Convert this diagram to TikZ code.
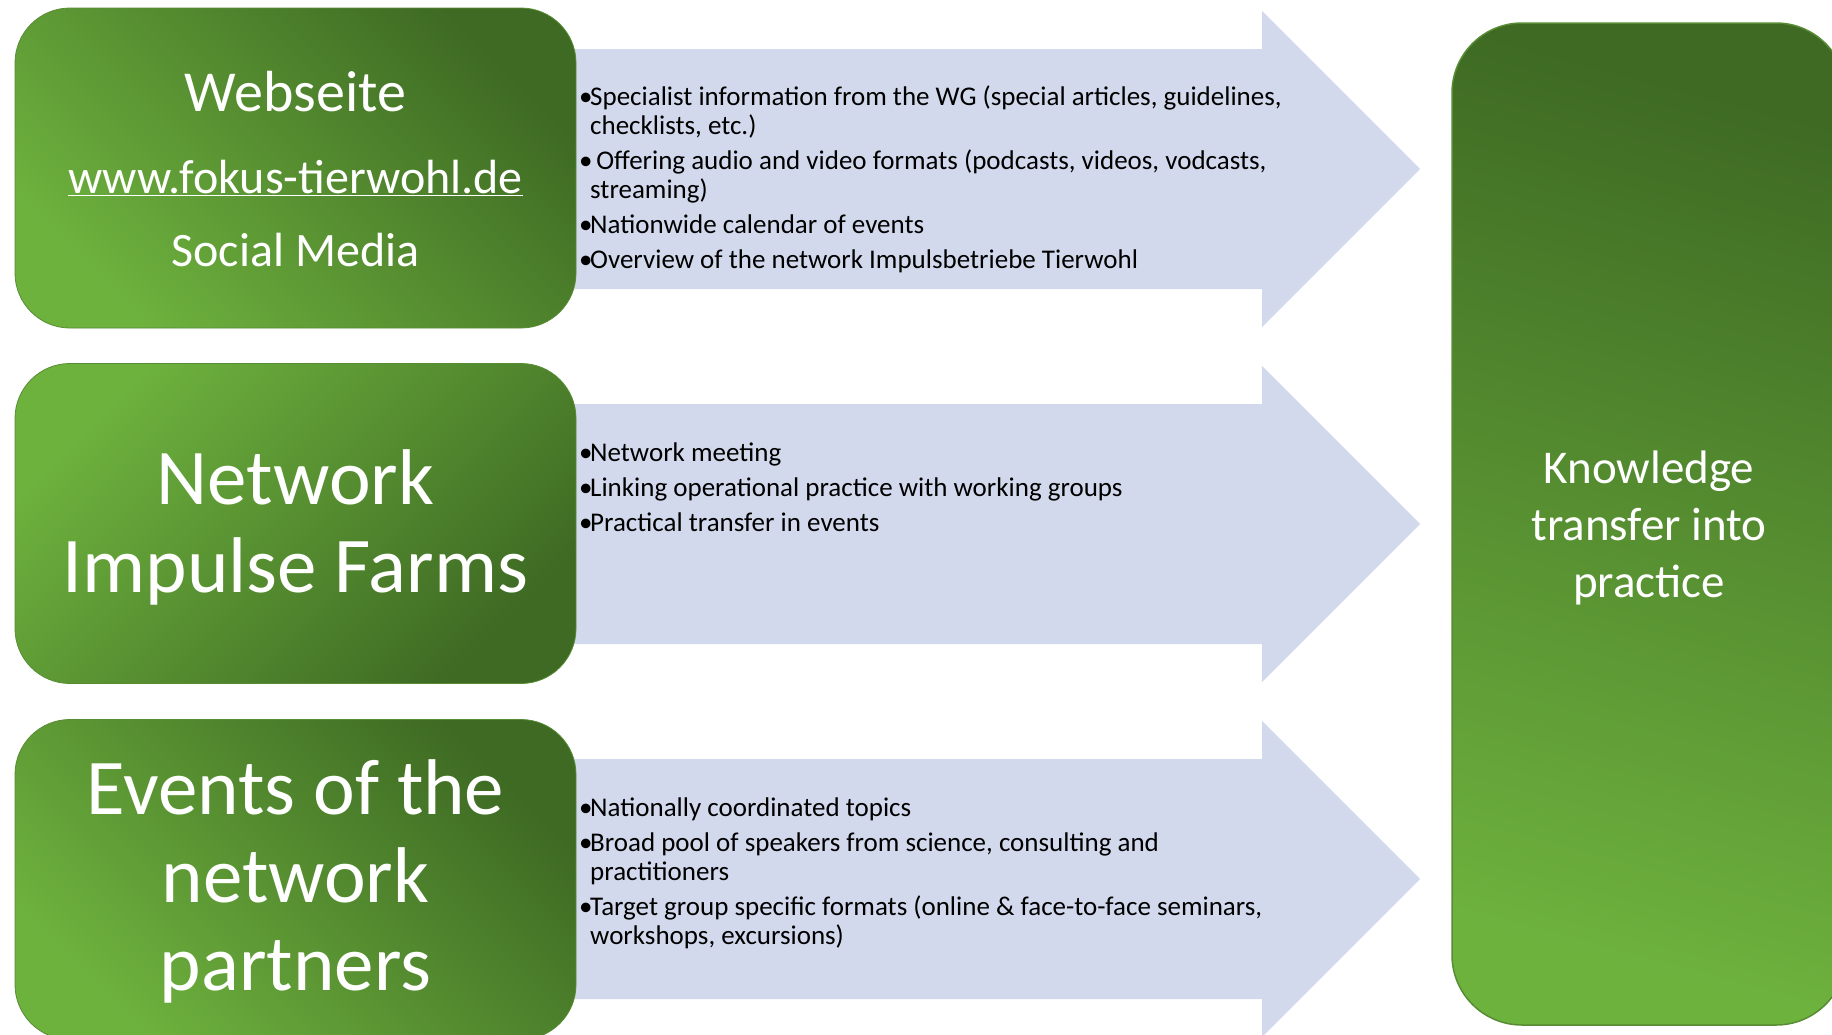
\documentclass[tikz,border=0pt]{standalone}
\usepackage{fontspec}
\setmainfont{Carlito}
\definecolor{gdark}{RGB}{62,106,35}
\definecolor{glight}{RGB}{110,178,62}
\definecolor{gedge}{RGB}{88,140,52}
\definecolor{arrowfill}{RGB}{211,217,236}
\newlength\bulw
\setlength\bulw{11pt}
\newcommand\bitem[1]{\spaceskip=0pt\xspaceskip=0pt\hangindent=\bulw\hangafter=1\noindent\makebox[\bulw][l]{•}#1\par}
\newcommand\flowarrow[1]{%
  \fill[arrowfill] (572,#1-120) -- (1262,#1-120) -- (1262,#1-158) -- (1420,#1)
    -- (1262,#1+158) -- (1262,#1+120) -- (572,#1+120) -- cycle;}
\begin{document}
\begin{tikzpicture}[x=1pt,y=-1pt,
  gbox/.style={rounded corners=55pt, draw=gedge, line width=0.8pt,
    minimum width=561pt, minimum height=320pt, inner sep=0pt},
  shadeA/.style={top color=gdark, bottom color=glight, shading angle=-45},
  shadeB/.style={top color=glight, bottom color=gdark, shading angle=45},
  title/.style={text=white, align=center, inner sep=0pt},
  blist/.style={anchor=base west, inner sep=0pt, text width=820pt, align=left,
    font=\fontsize{27}{29}\selectfont\setlength\parskip{6pt}}]
\useasboundingbox (0,0) rectangle (1832,1034);
\clip (0,0) rectangle (1832,1034);
\fill[white] (0,0) rectangle (1832,1034);
% arrows
\flowarrow{169}
\flowarrow{524}
\flowarrow{879}
% left boxes
\node[gbox, shadeA] (web) at (295.5,168) {};
\node[gbox, shadeB] (net) at (295.5,523.5) {};
\node[gbox, shadeA] (evt) at (295.5,879.5) {};
% right box
\node[rounded corners=70pt, draw=gedge, line width=1.5pt, top color=gdark, bottom color=glight,
  shading angle=-15, minimum width=394pt, minimum height=1002pt, inner sep=0pt] (know) at (1649,524) {};
% titles
\node[title, anchor=base, font=\fontsize{58}{60}\selectfont] (webA) at (295.5,111) {Webseite};
\node[title, anchor=base, font=\fontsize{48}{60}\selectfont] (webB) at (295.5,193) {\underline{www.fokus-tierwohl.de}};
\node[title, anchor=base, font=\fontsize{48}{60}\selectfont] (webC) at (295.5,266) {Social Media};
\node[title, font=\fontsize{79}{88}\selectfont] (netT) at (295.5,527) {Network\\Impulse Farms};
\node[title, font=\fontsize{79}{88}\selectfont] (evtT) at (295.5,881.5) {Events of the\\network\\partners};
\node[title, font=\fontsize{47}{57}\selectfont] (knowT) at (1649,528) {Knowledge\\transfer into\\practice};
% bullet lists
\node[blist] (l1) at (579,105) {%
\bitem{Specialist information from the WG (special articles, guidelines,\newline checklists, etc.)}%
\bitem{\ Offering audio and video formats (podcasts, videos, vodcasts,\newline streaming)}%
\bitem{Nationwide calendar of events}%
\bitem{Overview of the network Impulsbetriebe Tierwohl}};
\node[blist] (l2) at (579,461) {%
\bitem{Network meeting}%
\bitem{Linking operational practice with working groups}%
\bitem{Practical transfer in events}};
\node[blist] (l3) at (579,816) {%
\bitem{Nationally coordinated topics}%
\bitem{Broad pool of speakers from science, consulting and\newline practitioners}%
\bitem{Target group specific formats (online \& face-to-face seminars,\newline workshops, excursions)}};
\end{tikzpicture}
\end{document}
